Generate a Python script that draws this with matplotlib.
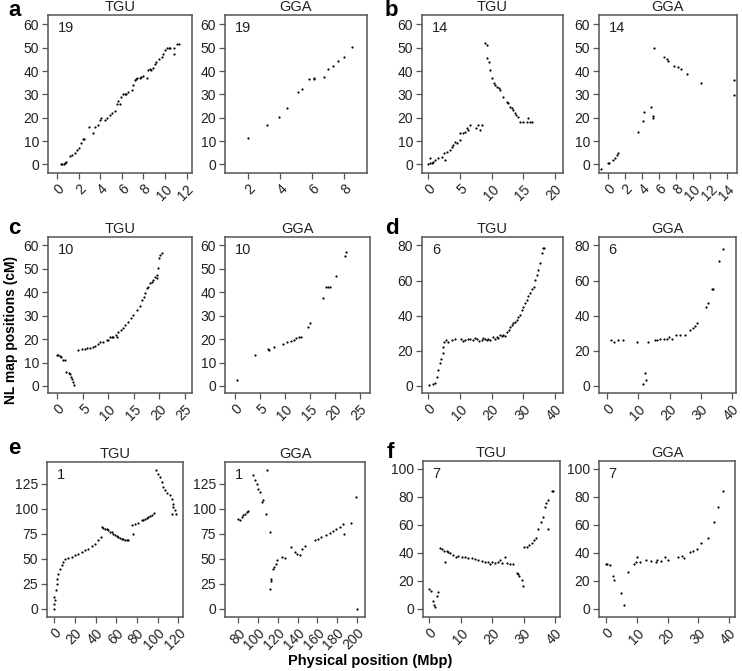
import matplotlib
matplotlib.use("Agg")
import matplotlib.pyplot as plt

plt.rcParams["font.family"] = ["Liberation Sans", "DejaVu Sans"]

# --- data: (physical position Mbp, NL map position cM) ---
a_tgu_x = [0.3, 0.45, 0.6, 0.7, 0.8, 1.2, 1.4, 1.6, 1.8, 2.0, 2.2, 2.4, 2.5, 2.9, 3.3, 3.5, 3.8, 4.0, 4.1, 4.4,
           4.6, 4.9, 5.1, 5.4, 5.5, 5.6, 5.8, 5.9, 6.1, 6.3, 6.4, 6.6, 6.9, 7.0, 7.2, 7.3, 7.4, 7.7, 7.8, 8.0,
           8.3, 8.4, 8.6, 8.7, 8.9, 9.1, 9.2, 9.4, 9.7, 9.8, 10.0, 10.2, 10.4, 10.5, 10.8, 10.8, 11.1, 11.3]
a_tgu_y = [0, 0, 0, 0.5, 1, 3.5, 4, 5, 6, 7, 9, 11, 11, 16, 13.5, 16, 17, 19, 20, 19,
           20, 21, 22, 23, 26, 27, 26, 29, 30, 30, 30, 31, 32, 34, 36, 36.5, 37, 37, 37.5, 38,
           37, 40.5, 41, 40.5, 41.5, 43, 44, 45, 46, 47.5, 49, 50, 50, 50, 50, 47.5, 51.5, 51.5]

a_gga_x = [2.0, 3.15, 3.94, 4.4, 5.1, 5.35, 5.8, 6.1, 6.1, 6.7, 7.0, 7.3, 7.6, 8.0, 8.5]
a_gga_y = [11.1, 16.9, 20.4, 24.3, 31.1, 32.1, 36.6, 37.1, 36.7, 37.6, 40.7, 42.1, 44.3, 46.1, 50.4]

b_tgu_x = [0, 0.26, 0.5, 0.8, 0.26, 1.0, 1.6, 2.1, 2.6, 2.4, 2.9, 3.4, 3.7, 3.9, 4.2, 4.5, 5.0, 5.0, 5.5,
           5.8, 6.1, 6.3, 6.6, 7.6, 7.9, 8.2, 8.4,
           8.9, 9.2, 9.3, 9.5, 9.7, 10.0, 10.3, 10.5, 10.8, 11.1, 11.3, 11.8, 12.4, 12.6, 12.9, 13.2,
           13.4, 13.7, 13.9, 14.2, 14.5, 15.0, 15.5, 15.8, 16.1, 16.3]
b_tgu_y = [0, 0.4, 0.4, 1.1, 2.6, 1.9, 2.6, 3.3, 1.9, 4.7, 5.4, 6.1, 7.6, 8.3, 9.7, 9.0, 10.4, 13.3, 13.3,
           14.0, 15.4, 14.7, 16.9, 15.4, 16.9, 14.7, 16.9,
           51.9, 51.1, 45.4, 44.0, 40.4, 36.9, 34.7, 34.0, 33.0, 32.6, 31.9, 29.0, 26.9, 26.1, 24.7, 24.0,
           23.3, 21.9, 21.1, 20.4, 18.3, 18.3, 18.3, 19.7, 18.3, 18.3]

b_gga_x = [-0.9, 0.0, 0.1, 0.6, 0.8, 1.0, 1.1, 3.5, 4.1, 4.2, 5.0, 5.3, 5.3, 5.4, 6.6, 6.9, 7.0,
           7.8, 8.2, 8.6, 9.3, 10.9, 14.8, 14.8]
b_gga_y = [-2.0, 0.7, 0.4, 1.9, 2.6, 4.0, 4.7, 13.7, 18.6, 22.3, 24.7, 20.7, 19.7, 49.7, 45.9, 45.0, 44.4,
           42.1, 41.6, 40.9, 38.7, 35.0, 36.1, 29.7]

c_tgu_x = [0, 0.2, 0.5, 0.8, 1.2, 1.5, 1.8, 2.2, 2.5, 2.6, 2.8, 3.0, 3.3,
           4.1, 4.8, 5.4, 5.9, 6.4, 6.9, 7.4, 8.0, 8.4, 9.0, 9.7, 10.0, 10.3, 10.7, 11.0, 11.5, 11.6,
           11.9, 12.4, 12.9, 13.3, 13.9, 14.4, 14.9, 15.6, 16.2, 16.5, 16.9, 17.2, 17.5, 17.8, 18.2,
           18.5, 18.8, 19.2, 19.5, 19.5, 19.8, 20.0, 20.1, 20.5]
c_tgu_y = [13.1, 13.1, 12.9, 12.4, 11.3, 11.3, 6.0, 5.7, 5.3, 3.9, 3.1, 1.7, 0.3,
           15.3, 15.6, 15.6, 16.0, 16.4, 16.7, 17.1, 18.1, 18.6, 18.9, 19.6, 19.6, 20.7, 21.0, 20.7, 21.7, 21.0,
           23.1, 23.9, 24.6, 26.0, 27.4, 28.9, 30.3, 32.4, 34.1, 36.7, 38.1, 39.6, 41.7, 42.4, 43.9,
           44.6, 45.3, 46.4, 47.4, 46.0, 50.3, 54.6, 56.0, 56.7]

c_gga_x = [0.3, 4.0, 6.5, 6.8, 7.7, 9.5, 10.3, 11.1, 11.7, 12.2, 12.7, 13.1, 14.5, 15.0, 17.5, 18.2,
           18.5, 19.0, 20.2, 22.0, 22.2]
c_gga_y = [2.4, 13.1, 15.6, 15.4, 16.7, 18.1, 18.9, 19.3, 19.6, 20.3, 21.0, 21.0, 25.0, 26.7, 37.4, 42.1,
           42.4, 42.1, 47.0, 55.7, 57.0]

d_tgu_x = [0.3, 1.4, 2.1, 2.6, 3.2, 3.7, 4.0, 4.5, 4.7, 4.9, 5.6, 6.3, 7.4, 8.4, 10.2, 11.0, 11.6, 12.4,
           13.2, 14.2, 14.8, 15.3, 16.1, 16.8, 17.4, 17.9, 18.4, 18.9, 19.6, 20.5, 21.0, 21.6, 22.1, 22.6,
           23.2, 23.7, 24.2, 24.7, 25.3, 25.8, 26.3, 26.8, 27.4, 27.9, 28.4, 28.9, 29.5, 30.0, 30.5, 31.0,
           31.6, 32.1, 32.7, 33.2, 33.7, 34.2, 34.7, 35.3, 35.8, 36.3, 36.5]
d_tgu_y = [0.4, 1.0, 1.7, 5.1, 9.0, 12.8, 15.6, 18.5, 22.3, 24.8, 26.1, 25.1, 26.1, 26.5, 26.5, 25.5, 26.1, 26.8,
           27.0, 26.1, 27.5, 26.5, 25.8, 26.1, 27.2, 26.5, 25.9, 27.0, 26.3, 27.6, 26.8, 28.0, 27.2, 29.0,
           28.5, 29.0, 28.6, 30.8, 32.0, 33.7, 34.5, 35.6, 36.5, 37.5, 39.0, 40.4, 43.0, 45.1, 47.0, 49.0,
           51.0, 52.8, 55.0, 56.2, 60.4, 63.0, 66.1, 69.9, 75.6, 78.5, 78.5]

d_gga_x = [1.4, 2.2, 3.4, 5.2, 9.7, 11.5, 12.3, 12.5, 13.0, 15.2, 16.0, 17.0, 18.1, 19.1, 19.8, 20.9,
           22.2, 23.3, 24.8, 26.4, 27.5, 28.2, 28.8, 31.6, 32.4, 33.5, 33.9, 35.8, 37.1]
d_gga_y = [26.1, 25.1, 26.1, 26.1, 25.1, 1.0, 7.4, 3.2, 25.1, 26.1, 26.1, 26.5, 26.5, 27.0, 28.0, 26.5,
           29.0, 29.0, 29.0, 31.8, 32.8, 34.1, 35.6, 45.1, 47.0, 55.2, 55.2, 71.2, 78.1]

e_tgu_x = [0, 0, 0.6, 0, 1.3, 2.3, 2.9, 3.9, 5.5, 7.1, 8.7, 10.3, 13.5, 16.8, 20.0, 23.2, 26.5, 29.7,
           32.9, 36.1, 39.4, 42.6, 44.8, 45.8, 47.5, 49.0, 50.6, 52.3, 54.0, 55.5, 57.2, 58.7, 60.3, 61.9,
           63.5, 65.2, 66.8, 68.4, 70.0, 71.6, 74.8, 76.5, 78.1, 81.3, 84.5, 86.0, 87.7, 89.3, 91.0, 92.6,
           94.2, 96.5, 98.4, 100.6, 102.3, 103.9, 105.5, 107.1, 108.7, 111.9, 113.5, 114.5, 115.2, 116.8,
           117.7, 113.5]
e_tgu_y = [0.3, 5.3, 8.6, 12.0, 18.6, 25.3, 30.3, 35.2, 40.2, 43.6, 46.9, 50.2, 51.2, 51.9, 53.5, 55.2, 56.8, 58.5,
           60.2, 62.5, 64.5, 68.5, 71.8, 81.8, 81.0, 80.1, 79.5, 78.5, 77.0, 76.8, 75.0, 73.5, 72.5, 71.8,
           70.8, 70.1, 69.5, 69.1, 68.8, 68.5, 83.4, 75.1, 84.4, 85.8, 88.4, 89.0, 90.1, 91.0, 91.8, 93.0,
           94.1, 95.7, 138.3, 135.0, 131.6, 126.7, 121.7, 118.4, 115.7, 113.4, 110.0, 105.0, 101.7, 98.4,
           95.1, 94.4]

e_gga_x = [80.0, 81.7, 83.4, 85.1, 86.8, 88.5, 90.1, 94.5, 96.9, 98.6, 100.3, 101.9, 103.6, 104.6, 108.0,
           108.7, 112.0, 112.0, 112.7, 113.0, 115.2, 116.2, 117.9, 119.3, 124.7, 127.0, 133.8, 137.2, 139.5,
           142.2, 144.9, 147.3, 157.4, 160.8, 164.2, 169.2, 172.6, 176.0, 179.4, 182.7, 186.1, 187.1,
           193.9, 199.0, 200.0]
e_gga_y = [90.1, 89.1, 91.8, 93.4, 95.1, 96.7, 97.7, 134.0, 129.0, 124.3, 120.0, 116.7, 106.7, 109.0, 95.1,
           138.3, 76.8, 20.3, 30.3, 28.0, 40.2, 41.9, 45.2, 48.5, 51.9, 51.2, 61.8, 56.8, 55.2,
           53.5, 60.2, 62.5, 69.1, 70.1, 71.8, 73.5, 75.8, 77.8, 79.8, 81.8, 84.4, 75.1,
           86.1, 111.7, 0.3]

f_tgu_x = [0, 0.7, 1.1, 1.5, 1.8, 2.3, 2.9, 3.4, 3.9, 4.7, 5.0, 5.5, 6.0, 6.6, 7.6, 8.5, 9.2, 10.3, 11.4,
           12.4, 13.5, 14.5, 15.6, 16.7, 17.7, 18.8, 19.3, 19.8, 20.9, 22.0, 22.5, 23.0, 24.1, 24.6, 25.7,
           26.7, 27.8, 28.3, 28.6, 29.4, 29.9, 30.1, 31.0, 31.8, 32.6, 33.3, 33.9, 34.7, 35.5, 36.3, 36.8,
           37.3, 37.9, 37.9, 38.9, 39.5]
f_tgu_y = [14.0, 13.0, 5.2, 2.8, 1.2, 8.8, 11.6, 43.1, 42.4, 41.5, 33.6, 41.5, 40.8, 40.0, 38.4, 37.2, 37.7, 36.7, 36.7,
           36.0, 36.0, 35.3, 34.8, 34.4, 33.6, 33.6, 32.0, 33.6, 32.9, 33.6, 34.8, 32.9, 36.7, 32.5, 32.0,
           31.8, 25.8, 24.9, 23.0, 20.6, 15.9, 43.8, 43.8, 45.5, 47.2, 49.1, 50.2, 56.6, 62.1, 65.6, 72.7,
           75.1, 77.5, 56.6, 83.9, 83.9]

f_gga_x = [0, 0.4, 1.3, 2.4, 2.6, 4.8, 5.8, 7.0, 9.1, 9.7, 10.1, 11.0, 13.0, 14.5, 16.2, 16.6, 18.0, 19.1,
           20.2, 23.5, 24.6, 25.3, 27.2, 28.1, 29.4, 31.0, 33.2, 35.0, 36.4, 38.1]
f_gga_y = [32.0, 32.0, 31.5, 23.5, 20.6, 11.1, 2.8, 26.1, 32.0, 33.6, 36.7, 33.6, 34.8, 34.4, 33.6, 34.8, 34.4, 36.7,
           34.8, 36.7, 37.7, 36.0, 40.8, 41.5, 42.4, 46.7, 50.2, 62.1, 72.7, 83.9]

FIG_W, FIG_H = 742, 671
fig = plt.figure(figsize=(FIG_W / 100, FIG_H / 100), dpi=100)
FRAME = "#555555"
TXT = "#222222"


def panel(box, x, y, xlim, ylim, xticks, yticks, title, num):
    # box in pixels: left, top, right, bottom
    l, t, r, b = box
    ax = fig.add_axes([l / FIG_W, 1 - b / FIG_H, (r - l) / FIG_W, (b - t) / FIG_H])
    ax.scatter(x, y, s=2.5, c="black", marker="o", linewidths=0)
    ax.set_xlim(xlim)
    ax.set_ylim(ylim)
    ax.set_xticks(xticks)
    ax.set_yticks(yticks)
    ax.set_xticklabels([str(v) for v in xticks], rotation=45, ha="right", va="top",
                       rotation_mode="anchor", fontsize=10, color=TXT)
    ax.set_yticklabels([str(v) for v in yticks], fontsize=10, color=TXT)
    ax.tick_params(length=4, width=0.9, color=FRAME, pad=2.5)
    for s in ax.spines.values():
        s.set_color(FRAME)
        s.set_linewidth(1.1)
    ax.set_title(title, fontsize=10.5, pad=3, color=TXT)
    ax.text(0.07, 0.96, num, transform=ax.transAxes, ha="left", va="top", fontsize=10.5, color=TXT)
    return ax


y60 = [0, 10, 20, 30, 40, 50, 60]

panel((48, 15, 192, 173), a_tgu_x, a_tgu_y, (-0.86, 12.5), (-3.7, 64), [0, 2, 4, 6, 8, 10, 12], y60, "TGU", "19")
panel((225, 15, 367, 173), a_gga_x, a_gga_y, (0.54, 9.42), (-3.7, 64), [2, 4, 6, 8], y60, "GGA", "19")
panel((422, 15, 563, 173), b_tgu_x, b_tgu_y, (-1.0, 21.26), (-3.7, 64), [0, 5, 10, 15, 20], y60, "TGU", "14")
panel((599, 15, 737, 173), b_gga_x, b_gga_y, (-1.09, 15.2), (-3.7, 64), [0, 2, 4, 6, 8, 10, 12, 14], y60, "GGA", "14")

panel((48, 237, 192, 393), c_tgu_x, c_tgu_y, (-1.82, 26.37), (-3.0, 63.6), [0, 5, 10, 15, 20, 25], y60, "TGU", "10")
panel((225, 237, 370, 393), c_gga_x, c_gga_y, (-2.0, 27.0), (-3.0, 63.6), [0, 5, 10, 15, 20, 25], y60, "GGA", "10")
panel((422, 237, 563, 393), d_tgu_x, d_tgu_y, (-2.0, 42.5), (-4.0, 84.8), [0, 10, 20, 30, 40], [0, 20, 40, 60, 80], "TGU", "6")
panel((599, 237, 736, 393), d_gga_x, d_gga_y, (-2.6, 41.3), (-4.0, 84.8), [0, 10, 20, 30, 40], [0, 20, 40, 60, 80], "GGA", "6")

panel((47, 462, 183, 617), e_tgu_x, e_tgu_y, (-7.1, 124.5), (-8.0, 146.5), [0, 20, 40, 60, 80, 100, 120],
      [0, 25, 50, 75, 100, 125], "TGU", "1")
panel((225, 462, 365, 617), e_gga_x, e_gga_y, (66.5, 208.4), (-8.0, 146.5), [80, 100, 120, 140, 160, 180, 200],
      [0, 25, 50, 75, 100, 125], "GGA", "1")
panel((423, 461, 560, 617), f_tgu_x, f_tgu_y, (-2.0, 41.6), (-5.9, 105.4), [0, 10, 20, 30, 40],
      [0, 20, 40, 60, 80, 100], "TGU", "7")
panel((599, 461, 735, 617), f_gga_x, f_gga_y, (-2.3, 41.9), (-5.9, 105.4), [0, 10, 20, 30, 40],
      [0, 20, 40, 60, 80, 100], "GGA", "7")

# panel letters
for letter, (px, py) in zip("abcdef", [(8, 10), (385, 10), (8, 228), (385, 229), (8, 448), (387, 452)]):
    fig.text(px / FIG_W, 1 - py / FIG_H, letter, fontsize=16, fontweight="bold", ha="left", va="center")

fig.text(11 / FIG_W, 1 - 330 / FIG_H, "NL map positions (cM)", rotation=90, fontsize=10, fontweight="bold",
         ha="center", va="center")
fig.text(370 / FIG_W, 1 - 661 / FIG_H, "Physical position (Mbp)", fontsize=10.5, fontweight="bold",
         ha="center", va="center")

fig.savefig("out.png", dpi=100)
